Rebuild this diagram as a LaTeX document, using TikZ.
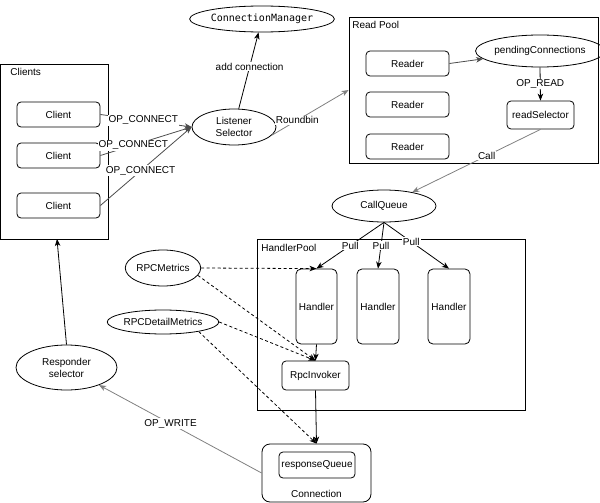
\documentclass[tikz,border=0pt]{standalone}
\usepackage{fontspec}
\setmainfont{Liberation Sans}
\setmonofont{DejaVu Sans Mono}
\usetikzlibrary{arrows.meta,shapes.geometric}
\begin{document}
\begin{tikzpicture}[x=1pt,y=-1pt,
  font=\fontsize{10}{12}\selectfont,
  line width=0.8pt,
  every node/.style={inner sep=0pt},
  container/.style={draw},
  rbox/.style={draw, rounded corners=4pt},
  oval/.style={draw, ellipse, align=center},
  lbl/.style={fill=white, inner sep=1pt},
  arr/.style={-{Stealth[length=7pt,width=5.5pt,inset=2pt]}},
  grayline/.style={arr, draw=black!50},
  dline/.style={arr, dash pattern=on 3pt off 2.5pt}
]
\useasboundingbox (0,0) rectangle (600,503);

% Clients
\node[container, minimum width=108pt, minimum height=175pt] (clients) at (54.5,151.5) {};
\node[anchor=north west] (clientsl) at (10,68) {Clients};
\node[rbox, minimum width=83pt, minimum height=25pt] (c1) at (58.5,114.5) {Client};
\node[rbox, minimum width=83pt, minimum height=25pt] (c2) at (58.5,155.5) {Client};
\node[rbox, minimum width=83pt, minimum height=25pt] (c3) at (58.5,205.5) {Client};

% Listener and ConnectionManager
\node[oval, minimum width=84pt, minimum height=36pt] (ls) at (234,127) {Listener\\Selector};
\node[oval, minimum width=120pt, minimum height=26pt, font=\fontsize{10}{12}\ttfamily] (cm) at (262,19) {ConnectionManager};

% Read Pool
\node[container, minimum width=249pt, minimum height=146pt] (rp) at (473.5,90) {};
\node[anchor=north west] (rpl) at (352,21) {Read Pool};
\node[rbox, minimum width=83pt, minimum height=25pt] (r1) at (407.5,63.5) {Reader};
\node[rbox, minimum width=83pt, minimum height=25pt] (r2) at (407.5,104.5) {Reader};
\node[rbox, minimum width=83pt, minimum height=25pt] (r3) at (407.5,146.5) {Reader};
\node[oval, minimum width=100pt, minimum height=32pt] (pc) at (540,51) {pendingConnections};
\node[rbox, minimum width=67pt, minimum height=28pt] (rs) at (540.5,115) {readSelector};

% CallQueue
\node[oval, minimum width=104pt, minimum height=32pt] (cq) at (384,206) {CallQueue};

% HandlerPool
\node[container, minimum width=268pt, minimum height=171pt] (hp) at (391,324.5) {};
\node[anchor=north west] (hpl) at (261,244) {HandlerPool};
\node[rbox, rounded corners=5pt, minimum width=41pt, minimum height=75pt] (h1) at (316.5,306.5) {Handler};
\node[rbox, rounded corners=5pt, minimum width=42pt, minimum height=75pt] (h2) at (378,306.5) {Handler};
\node[rbox, rounded corners=5pt, minimum width=42pt, minimum height=75pt] (h3) at (449,306.5) {Handler};
\node[rbox, minimum width=67pt, minimum height=29pt] (rpc) at (315.5,375.5) {RpcInvoker};

% Metrics
\node[oval, minimum width=74pt, minimum height=36pt] (rpcm) at (163,268) {RPCMetrics};
\node[oval, minimum width=92pt, minimum height=24pt] (rpcd) at (163,322) {RPCDetailMetrics};

% Responder
\node[oval, minimum width=101pt, minimum height=45pt] (resp) at (66.5,367.5) {Responder\\selector};
\coordinate (cb) at (57,239);

% Connection
\node[rbox, rounded corners=8pt, minimum width=109pt, minimum height=58pt] (conn) at (316.5,473) {};
\node[rbox, minimum width=76pt, minimum height=26pt] (rq) at (317,465) {responseQueue};
\node (connl) at (316.5,494) {Connection};

% Connectors
\draw[arr, draw=black!70] (c1.east) -- node[lbl, pos=0.47] {OP\_CONNECT} (ls.west);
\draw[arr, draw=black!70] (c2.east) -- node[lbl, pos=0.36] {OP\_CONNECT} (ls.west);
\draw[arr, draw=black!70] (c3.east) -- node[lbl, pos=0.44] {OP\_CONNECT} (ls.west);
\draw[arr] (ls) -- node[lbl, pos=0.55] {add connection} (cm);
\draw[grayline] (ls.-12) -- node[lbl, pos=0.33] {Roundbin} (rp.west);
\draw[arr, draw=black!70] (r1.east) -- (pc);
\draw[arr] (pc.south) -- node[lbl] {OP\_READ} (rs.north);
\draw[grayline] (rs.south) -- node[lbl, pos=0.42] {Call} (cq);
\draw[arr] (cq.south) -- node[lbl] {Pull} (h1.north);
\draw[arr] (cq.south) -- node[lbl] {Pull} (h2.north);
\draw[arr] (cq.south) -- node[lbl, pos=0.42] {Pull} (h3.north);
\draw[arr] (h1.south) -- (rpc.north);
\draw[arr] (rpc.south) -- (conn.north);
\draw[dline] (rpcm.east) -- (h1.north);
\draw[dline] (rpcm.-12) -- (rpc.north);
\draw[dline] (rpcd.east) -- (rpc.north);
\draw[dline] (rpcd.-15) -- (conn.north);
\draw[arr] (resp.north) -- (cb);
\draw[grayline] (conn.west) -- node[lbl, pos=0.56] {OP\_WRITE} (resp);
\end{tikzpicture}
\end{document}
